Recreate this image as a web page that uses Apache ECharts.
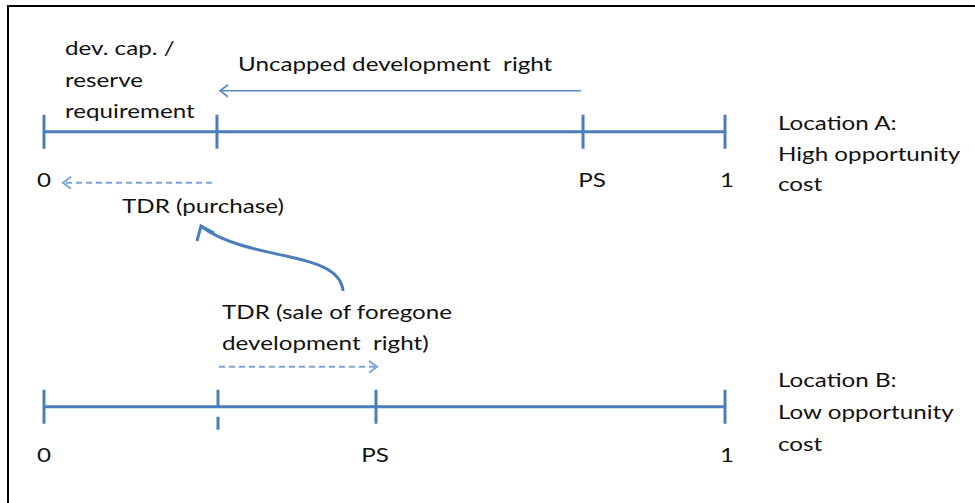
<!DOCTYPE html>
<html>
<head>
<meta charset="utf-8">
<script src="https://cdn.jsdelivr.net/npm/echarts@6/dist/echarts.min.js"></script>
<style>
  html, body { margin: 0; background: #fff; }
  #chart { width: 975px; height: 503px; }
</style>
</head>
<body>
<div id="chart"></div>
<script>
// Rows of the diagram (A on top, B below) and their y level
const rows = ['A', 'B'];
const rowLevel = [1, 0];
const rowLabels = ['Location A:\nHigh opportunity\ncost', 'Location B:\nLow opportunity\ncost'];

// Positions on the 0..1 scale
const endPos = [0, 1];
const endLabels = ['0', '1'];
const capPos = [0.254, 0.2555];   // dev. cap. / reserve requirement
const psPos = [0.7915, 0.4875];   // PS
const capLabel = 'dev. cap. /\nreserve\nrequirement';

// Arrows: row index, from, to, dashed
const arrows = [
  { row: 0, from: psPos[0], to: capPos[0], dashed: false, name: 'Uncapped development  right' },
  { row: 0, from: capPos[0], to: endPos[0], dashed: true, name: 'TDR (purchase)' },
  { row: 1, from: capPos[1], to: psPos[1], dashed: true, name: 'TDR (sale of foregone\ndevelopment  right)' }
];

document.addEventListener('DOMContentLoaded', () => {
  const chart = echarts.init(document.getElementById('chart'), null, { renderer: 'svg' });

  const blue = '#4a7ebb';
  const font = '20px Lato, "Open Sans", sans-serif';
  const textColor = '#111';
  const stretch = 1.21; // the original text is wider than it is tall

  // pixel styling of arrows (lift above/below row line, end trims)
  const arrowStyle = [
    { dy: -41, trimFrom: 2, trimTo: 3, color: '#5b88c4', width: 1.6 },
    { dy: 51, trimFrom: 5, trimTo: 19, color: '#7ea4d6', width: 2 },
    { dy: -40, trimFrom: 1, trimTo: -1, color: '#7ea4d6', width: 2 }
  ];

  // ticks: [x, level, dashedTick]
  const ticks = [];
  rows.forEach((r, i) => {
    ticks.push([endPos[0], rowLevel[i], 0]);
    ticks.push([capPos[i], rowLevel[i], i === 1 ? 1 : 0]);
    ticks.push([psPos[i], rowLevel[i], 0]);
    ticks.push([endPos[1], rowLevel[i], 0]);
  });

  // tick labels: [x, level, text, nudge]
  const tickLabels = [];
  rows.forEach((r, i) => {
    tickLabels.push([endPos[0], rowLevel[i], endLabels[0], 0]);
    tickLabels.push([psPos[i], rowLevel[i], 'PS', i === 0 ? 9 : -1]);
    tickLabels.push([endPos[1], rowLevel[i], endLabels[1], 2]);
  });

  const txt = (text, x, y, lineHeight) => ({
    type: 'text', x, y, scaleX: stretch, silent: true,
    style: { text, font, lineHeight: lineHeight || 24, fill: textColor, verticalAlign: 'middle' }
  });

  const option = {
    backgroundColor: '#fff',
    animation: false,
    grid: { left: 44, right: 250, top: 8, bottom: 0 },
    xAxis: { type: 'value', min: 0, max: 1, show: false },
    yAxis: { type: 'value', min: -0.35, max: 1.45, show: false },
    series: [
      // main lines
      ...rows.map((r, i) => ({
        type: 'line',
        name: 'Location ' + r,
        data: [[endPos[0], rowLevel[i]], [endPos[1], rowLevel[i]]],
        symbol: 'none',
        lineStyle: { color: blue, width: 3 },
        silent: true
      })),
      // ticks
      {
        type: 'custom',
        data: ticks,
        silent: true,
        renderItem: (params, api) => {
          const p = api.coord([api.value(0), api.value(1)]);
          const style = { stroke: blue, lineWidth: 3 };
          if (api.value(2)) {
            return {
              type: 'group',
              children: [
                { type: 'line', shape: { x1: p[0], y1: p[1] - 17, x2: p[0], y2: p[1] }, style },
                { type: 'line', shape: { x1: p[0], y1: p[1] + 10, x2: p[0], y2: p[1] + 23 }, style }
              ]
            };
          }
          return { type: 'line', shape: { x1: p[0], y1: p[1] - 17, x2: p[0], y2: p[1] + 17 }, style };
        }
      },
      // tick labels
      {
        type: 'custom',
        silent: true,
        data: tickLabels,
        dimensions: ['x', 'y', 'text', 'nudge'],
        renderItem: (params, api) => {
          const item = tickLabels[params.dataIndex];
          const p = api.coord([item[0], item[1]]);
          return {
            type: 'text',
            x: p[0] + item[3], y: p[1] + 48, scaleX: stretch,
            style: { text: item[2], font, fill: textColor, align: 'center', verticalAlign: 'middle' }
          };
        }
      },
      // straight arrows
      {
        type: 'custom',
        silent: true,
        data: arrows.map((a, i) => [a.from, a.to, rowLevel[a.row], a.dashed ? 1 : 0, i]),
        renderItem: (params, api) => {
          const s = arrowStyle[api.value(4)];
          const p1 = api.coord([api.value(0), api.value(2)]);
          const p2 = api.coord([api.value(1), api.value(2)]);
          const dir = Math.sign(p2[0] - p1[0]);
          const y = p1[1] + s.dy;
          const x1 = p1[0] + dir * s.trimFrom;
          const x2 = p2[0] - dir * s.trimTo;
          const style = {
            stroke: s.color,
            lineWidth: s.width,
            fill: null,
            lineDash: api.value(3) ? [6, 4] : null
          };
          return {
            type: 'group',
            children: [
              { type: 'line', shape: { x1, y1: y, x2, y2: y }, style },
              {
                type: 'polyline',
                shape: { points: [[x2 - dir * 8, y - 6], [x2, y], [x2 - dir * 8, y + 6]] },
                style: { stroke: s.color, lineWidth: s.width, fill: null }
              }
            ]
          };
        }
      }
    ],
    graphic: [
      // frame
      {
        type: 'rect',
        shape: { x: 8, y: 6, width: 1100, height: 700 },
        style: { fill: null, stroke: '#000', lineWidth: 2 },
        silent: true
      },
      // curved connector
      {
        type: 'bezierCurve',
        shape: { x1: 343, y1: 291, cpx1: 340, cpy1: 250, cpx2: 250, cpy2: 262, x2: 202, y2: 227 },
        style: { stroke: blue, lineWidth: 3, fill: null }
      },
      {
        type: 'polyline',
        shape: { points: [[197, 241], [201, 226], [214, 233]] },
        style: { stroke: blue, lineWidth: 3, fill: null }
      },
      // texts
      txt(capLabel, 65, 79, 31.5),
      txt(arrows[0].name, 238, 63),
      txt(arrows[1].name, 122, 205),
      txt(arrows[2].name, 222, 327, 31.5),
      txt(rowLabels[0], 778, 153, 30.5),
      txt(rowLabels[1], 778, 411, 32)
    ]
  };

  chart.setOption(option);
  window.addEventListener('resize', () => chart.resize());
});
</script>
</body>
</html>
